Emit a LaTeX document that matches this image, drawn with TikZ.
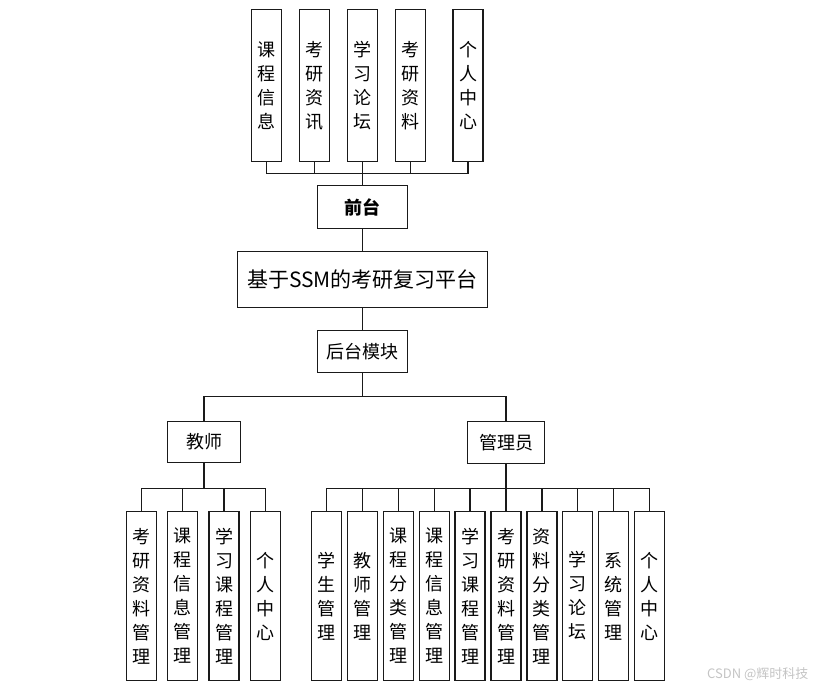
\documentclass[tikz,border=0pt]{standalone}
\usepackage{fontspec}
\newfontfamily\cjk{Noto Sans CJK SC}
\usetikzlibrary{positioning}
\definecolor{linegray}{HTML}{1A1A1A}
\definecolor{markgray}{HTML}{C4C4C4}

\begin{document}
\begin{tikzpicture}[
          x=1pt, y=1pt,
          % 1. cajas de texto horizontal
          box/.style={
              rectangle,
              draw=linegray,
              line width=1.3pt,
              align=center,
              font=\cjk\fontsize{18pt}{22pt}\selectfont,
              minimum width=90pt,
              minimum height=43pt,
              inner sep=0pt,
              outer sep=0pt
          },
          % 2. cajas de texto vertical (hojas)
          leaf/.style={
              box,
              font=\cjk\fontsize{18pt}{24pt}\selectfont,
              minimum width=30pt
          },
          topleaf/.style={leaf, minimum height=152pt},
          lowleaf/.style={leaf, minimum height=169pt},
          % 3. conectores
          wire/.style={draw=linegray, line width=1.3pt}
      ]
      \useasboundingbox (0,0) rectangle (822,-691);

      % === NODO CENTRAL ===
      \node[box, minimum width=250pt, minimum height=56pt,
            font=\cjk\fontsize{21pt}{24pt}\selectfont] (sys) at (362.5,-279.5) {基于SSM的考研复习平台};

      % === PARTE SUPERIOR ===
      \node[box, font=\cjk\bfseries\fontsize{18pt}{22pt}\selectfont, above=23pt of sys] (front) {前台};

      \node[topleaf, above=24pt of front] (f3) {学\\习\\论\\坛};
      \node[topleaf, left=18pt of f3] (f2) {考\\研\\资\\讯};
      \node[topleaf, left=18pt of f2] (f1) {课\\程\\信\\息};
      \node[topleaf, right=18pt of f3] (f4) {考\\研\\资\\料};
      \node[topleaf, right=27.5pt of f4] (f5) {个\\人\\中\\心};

      % === PARTE INFERIOR ===
      \node[box, minimum height=42pt, below=23pt of sys] (back) {后台模块};

      \node[box, minimum width=73pt, minimum height=41pt] (teacher) at (204,-442) {教师};
      \node[box, minimum width=77pt, minimum height=42pt] (admin) at (506,-442.5) {管理员};

      % Hojas del profesor
      \node[lowleaf] (t1) at (141.5,-596) {考\\研\\资\\料\\管\\理};
      \node[lowleaf, right=11.3pt of t1] (t2) {课\\程\\信\\息\\管\\理};
      \node[lowleaf, right=11.3pt of t2] (t3) {学\\习\\课\\程\\管\\理};
      \node[lowleaf, right=11.3pt of t3] (t4) {个\\人\\中\\心};

      % Hojas del administrador
      \node[lowleaf] (a1) at (326.5,-596) {学\\生\\管\\理};
      \node[lowleaf, right=5.9pt of a1] (a2) {教\\师\\管\\理};
      \node[lowleaf, right=5.9pt of a2] (a3) {课\\程\\分\\类\\管\\理};
      \node[lowleaf, right=5.9pt of a3] (a4) {课\\程\\信\\息\\管\\理};
      \node[lowleaf, right=5.9pt of a4] (a5) {学\\习\\课\\程\\管\\理};
      \node[lowleaf, right=5.9pt of a5] (a6) {考\\研\\资\\料\\管\\理};
      \node[lowleaf, right=5.9pt of a6] (a7) {资\\料\\分\\类\\管\\理};
      \node[lowleaf, right=5.9pt of a7] (a8) {学\\习\\论\\坛};
      \node[lowleaf, right=5.9pt of a8] (a9) {系\\统\\管\\理};
      \node[lowleaf, right=5.9pt of a9] (a10) {个\\人\\中\\心};

      % === CONEXIONES ===
      \draw[wire] (front.north) -- ++(0,12) coordinate (fbus);
      \draw[wire] (f1.south) |- (fbus) -| (f5.south);
      \draw[wire] (f2.south) |- (fbus);
      \draw[wire] (f3.south) -- (fbus);
      \draw[wire] (f4.south) |- (fbus);

      \draw[wire] (front.south) -- (sys.north);
      \draw[wire] (sys.south) -- (back.north);

      \draw[wire] (back.south) -- ++(0,-24) coordinate (bbus);
      \draw[wire] (teacher.north) |- (bbus) -| (admin.north);

      \draw[wire] (teacher.south) -- ++(0,-26) coordinate (tbus);
      \draw[wire] (t1.north) |- (tbus) -| (t4.north);
      \draw[wire] (t2.north) |- (tbus);
      \draw[wire] (t3.north) |- (tbus);

      \draw[wire] (admin.south) -- ++(0,-25) coordinate (abus);
      \draw[wire] (a1.north) |- (abus) -| (a10.north);
      \draw[wire] (a2.north) |- (abus);
      \draw[wire] (a3.north) |- (abus);
      \draw[wire] (a4.north) |- (abus);
      \draw[wire] (a5.north) |- (abus);
      \draw[wire] (a6.north) |- (abus);
      \draw[wire] (a7.north) |- (abus);
      \draw[wire] (a8.north) |- (abus);
      \draw[wire] (a9.north) |- (abus);

      % marca de agua
      \node[text=markgray, font=\cjk\fontsize{13pt}{15pt}\selectfont, anchor=east] (mark) at (812,-674) {CSDN @辉时科技};

      \end{tikzpicture}
\end{document}
